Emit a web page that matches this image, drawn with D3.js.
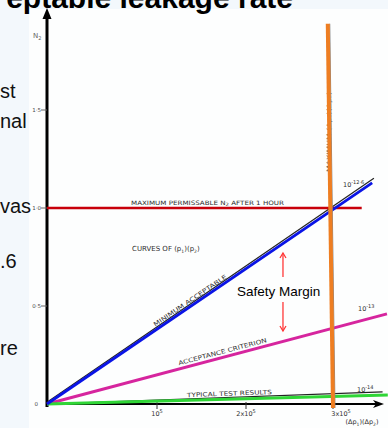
<!DOCTYPE html>
<html><head><meta charset="utf-8">
<script src="https://cdn.jsdelivr.net/npm/d3@7"></script>
<style>
html,body{margin:0;padding:0;background:#f3f8fc;overflow:hidden}
svg{display:block}
</style></head><body>
<svg id="c" width="388" height="428"></svg>
<script>
// ---- data ----
const xTickValues = [1e5, 2e5, 3e5];
const xTickBases = ["10", "2x10", "3x10"];
const yTickValues = [0, 0.5, 1.0, 1.5];
const yTickLabels = ["0", "0·5", "1·0", "1·5"];

const maxPermissible = [[0, 1.0], [3.33e5, 1.0]];
const minimumAcceptable = [[0, 0], [3.45e5, 1.128]];
const acceptanceCriterion = [[0, 0], [3.62e5, 0.46]];
const typicalResults = [[0, 0], [3.63e5, 0.046]];
const maxProduct = [[2.94e5, 1.94], [3.0e5, -0.02]];
const curve126 = [[0, 0], [3.47e5, 1.142]];
const curve14 = [[0, 0], [3.57e5, 0.062]];

const svg = d3.select("#c");
const W = 388, H = 428;

// hand-drawn axis: tick spacing is not uniform near origin
const x = d3.scaleLinear().domain([0, 1e5, 2e5, 3e5]).range([47, 157, 246, 333]);
const y = d3.scaleLinear().domain([0, 1]).range([404, 208]);
const line = d3.line().x(d => x(d[0])).y(d => y(d[1]));

// slide background + chart panel
svg.append("rect").attr("x", 29).attr("y", 9).attr("width", W - 29).attr("height", H - 9).attr("fill", "#fdfefe");

// slide text fragments (clipped by the screenshot)
svg.append("text").attr("x", 293).attr("y", 8).attr("text-anchor", "end")
  .attr("font-family", "Liberation Sans, Arial, sans-serif").attr("font-weight", "bold")
  .attr("font-size", 30).attr("fill", "#000").text("eptable leakage rate");
const side = [["st", 98], ["nal", 128], ["vas", 213], [".6", 268], ["re", 355]];
svg.selectAll("text.side").data(side).join("text").attr("class", "side")
  .attr("x", 0).attr("y", d => d[1])
  .attr("font-family", "Liberation Sans, Arial, sans-serif").attr("font-size", 20).attr("fill", "#111")
  .text(d => d[0]);

const small = "DejaVu Sans, sans-serif";
const ink = "#2e2e2e";

// y axis
svg.append("line").attr("x1", x(0)).attr("x2", x(0)).attr("y1", y(0) + 3).attr("y2", 16)
  .attr("stroke", "#000").attr("stroke-width", 3);
svg.append("path").attr("d", `M${x(0)},8 L${x(0) - 4.5},19 L${x(0) + 4.5},19 Z`).attr("fill", "#000");
svg.selectAll("line.yt").data(yTickValues.slice(1)).join("line").attr("class", "yt")
  .attr("x1", x(0) - 6).attr("x2", x(0)).attr("y1", d => y(d)).attr("y2", d => y(d))
  .attr("stroke", "#666").attr("stroke-width", 1);
svg.selectAll("text.yl").data(yTickValues).join("text").attr("class", "yl")
  .attr("x", (d, i) => i === 0 ? 38 : 41).attr("y", d => y(d) + 2).attr("text-anchor", "end")
  .attr("font-family", small).attr("font-size", 5.5).attr("fill", "#4a4a4a")
  .text((d, i) => yTickLabels[i]);
svg.append("text").attr("x", 33).attr("y", 38).attr("font-family", small).attr("font-size", 7).attr("fill", "#666")
  .html('N<tspan font-size="5" dy="1.5">2</tspan>');

// x axis
svg.append("line").attr("x1", x(0)).attr("x2", 378).attr("y1", y(0)).attr("y2", y(0))
  .attr("stroke", "#000").attr("stroke-width", 2);
svg.append("path").attr("d", `M384,${y(0)} L373,${y(0) - 4} L376,${y(0)} L373,${y(0) + 4} Z`).attr("fill", "#000");
svg.selectAll("line.xt").data(xTickValues).join("line").attr("class", "xt")
  .attr("x1", d => x(d)).attr("x2", d => x(d)).attr("y1", y(0) - 2).attr("y2", y(0) + 5)
  .attr("stroke", "#333").attr("stroke-width", 1);
svg.selectAll("text.xl").data(xTickValues).join("text").attr("class", "xl")
  .attr("x", (d, i) => x(d) + (i === 2 ? 8 : 0)).attr("y", 416).attr("text-anchor", "middle")
  .attr("font-family", small).attr("font-size", 6.5).attr("fill", ink)
  .html((d, i) => xTickBases[i] + '<tspan font-size="5" dy="-3">5</tspan>');
svg.append("text").attr("x", 362).attr("y", 424).attr("text-anchor", "middle")
  .attr("font-family", small).attr("font-size", 6.5).attr("fill", ink)
  .html('(Δp<tspan font-size="4.5" dy="1.5">1</tspan><tspan dy="-1.5">)(Δp</tspan><tspan font-size="4.5" dy="1.5">2</tspan><tspan dy="-1.5">)</tspan>');

// original black curves under the coloured overlays
svg.append("path").attr("d", line(curve126)).attr("transform", "translate(0,-1.8)")
  .attr("stroke", "#222").attr("stroke-width", 1.2).attr("fill", "none");
svg.append("path").attr("d", line(curve14))
  .attr("stroke", "#222").attr("stroke-width", 1.2).attr("fill", "none");

// vertical label (partly under orange)
const vx = 331, vy = 132;
svg.append("text").attr("transform", `translate(${vx},${vy}) rotate(-90)`).attr("text-anchor", "middle")
  .attr("font-family", small).attr("font-size", 6).attr("fill", "#555")
  .attr("textLength", 80).attr("lengthAdjust", "spacingAndGlyphs")
  .text("MAXIMUM (Δp₁)(Δp₂)");

// coloured overlays
svg.append("path").attr("d", line(maxPermissible)).attr("stroke", "#c8000a").attr("stroke-width", 2.5).attr("fill", "none");
svg.append("path").attr("d", line(acceptanceCriterion)).attr("stroke", "#d6259e").attr("stroke-width", 3).attr("fill", "none");
svg.append("path").attr("d", line(typicalResults)).attr("stroke", "#2fd636").attr("stroke-width", 3.2).attr("fill", "none");
svg.append("path").attr("d", line(minimumAcceptable)).attr("stroke", "#0a14e6").attr("stroke-width", 2.8).attr("fill", "none");
svg.append("path").attr("d", line(maxProduct)).attr("transform", "translate(2,0)")
  .attr("stroke", "#888").attr("stroke-width", 1).attr("fill", "none");
svg.append("path").attr("d", line(maxProduct)).attr("stroke", "#ee7e22").attr("stroke-width", 4).attr("fill", "none");

// labels along lines
function along(series, x0, off, txt, len) {
  const p0 = [x(series[0][0]), y(series[0][1])], p1 = [x(series[1][0]), y(series[1][1])];
  const ang = Math.atan2(p1[1] - p0[1], p1[0] - p0[0]) * 180 / Math.PI;
  const t = (x0 - p0[0]) / (p1[0] - p0[0]);
  const sy = p0[1] + t * (p1[1] - p0[1]);
  svg.append("text").attr("transform", `translate(${x0},${sy}) rotate(${ang}) translate(0,${-off})`)
    .attr("font-family", small).attr("font-size", 6).attr("fill", ink)
    .attr("textLength", len).attr("lengthAdjust", "spacingAndGlyphs").text(txt);
}
along(minimumAcceptable, 157, 3, "MINIMUM ACCEPTABLE", 87);
along(acceptanceCriterion, 180, 3.5, "ACCEPTANCE CRITERION", 91);
along(curve14, 187, 1.8, "TYPICAL TEST RESULTS", 85);

svg.append("text").attr("x", 131).attr("y", 205).attr("font-family", small).attr("font-size", 6).attr("fill", ink)
  .attr("textLength", 153).attr("lengthAdjust", "spacingAndGlyphs")
  .html('MAXIMUM PERMISSABLE N<tspan font-size="4.5" dy="1">2</tspan><tspan dy="-1"> AFTER 1 HOUR</tspan>');
svg.append("text").attr("x", 132).attr("y", 251).attr("font-family", small).attr("font-size", 7).attr("fill", ink)
  .html('CURVES OF (p<tspan font-size="4.5" dy="1.5">1</tspan><tspan dy="-1.5">)(p</tspan><tspan font-size="4.5" dy="1.5">2</tspan><tspan dy="-1.5">)</tspan>');

function pow(xp, yp, ex) {
  svg.append("text").attr("x", xp).attr("y", yp).attr("font-family", small).attr("font-size", 6.5).attr("fill", ink)
    .html('10<tspan font-size="5" dy="-3">' + ex + '</tspan>');
}
pow(343, 187, "-12·6");
pow(358, 311, "-13");
pow(357, 392, "-14");

// safety margin annotation
const ax = x(2.425e5);
const topY = 253, midA = 277, midB = 302, botY = 331;
const red = "#ff3838";
svg.append("line").attr("x1", ax).attr("x2", ax).attr("y1", topY).attr("y2", midA).attr("stroke", red).attr("stroke-width", 1.3);
svg.append("path").attr("d", `M${ax - 3},${topY + 5} L${ax},${topY} L${ax + 3},${topY + 5}`).attr("stroke", red).attr("stroke-width", 1.3).attr("fill", "none");
svg.append("line").attr("x1", ax).attr("x2", ax).attr("y1", midB).attr("y2", botY).attr("stroke", red).attr("stroke-width", 1.3);
svg.append("path").attr("d", `M${ax - 3},${botY - 5} L${ax},${botY} L${ax + 3},${botY - 5}`).attr("stroke", red).attr("stroke-width", 1.3).attr("fill", "none");
svg.append("text").attr("x", 237).attr("y", 296).attr("font-family", "Liberation Sans, Arial, sans-serif")
  .attr("font-size", 13.5).attr("fill", "#000").text("Safety Margin");
</script>
</body></html>
